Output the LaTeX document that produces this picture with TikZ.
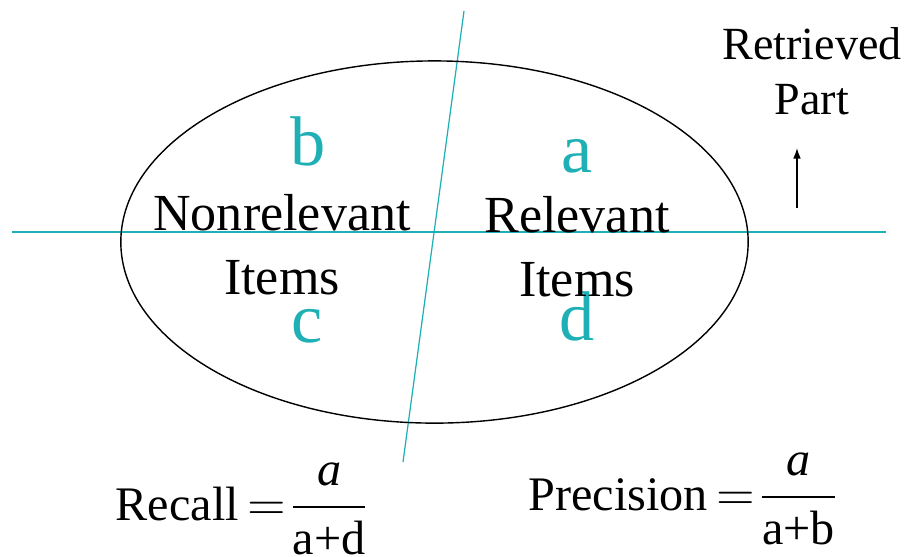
\documentclass[tikz,border=0pt]{standalone}
\usepackage{amsmath}
\usepackage{fontspec}
\setmainfont{Liberation Serif}
\usepackage{tikz}
\usetikzlibrary{arrows.meta}
\definecolor{myteal}{HTML}{1FB0B5}

\begin{document}
\begin{tikzpicture}[x=0.01cm, y=-0.01cm,
    cell/.style={anchor=base, text=myteal, font=\fontsize{20}{24}\selectfont},
    region/.style={align=center, font=\fontsize{14.8}{18.2}\selectfont},
    formula/.style={anchor=base west, inner sep=0pt, font=\fontsize{13.7}{16}\selectfont}]
    \useasboundingbox (0, 0) rectangle (911, 556);
    % dividing lines and the set of items
    \coordinate (hl) at (12, 232);
    \coordinate (hr) at (886, 232);
    \coordinate (vt) at (464, 11);
    \coordinate (vb) at (403, 462);
    \draw[myteal, line width=0.35pt] (hl) -- (hr);
    \draw[myteal, line width=0.35pt] (vt) -- (vb);
    \draw[line width=0.4pt] (434.5, 242) ellipse [x radius=3.135cm, y radius=1.81cm];
    % the four cells
    \node[cell] (b) at (308, 165) {b};
    \node[cell] (a) at (577, 172) {a};
    \node[cell] (c) at (307, 342) {c};
    \node[cell] (d) at (577, 340) {d};
    \node[region] (nonrel) at (282, 245) {Nonrelevant\\Items};
    \node[region] (rel) at (577, 247) {Relevant\\Items};
    % retrieved side
    \node[region, font=\fontsize{13.1}{15.7}\selectfont] (retr) at (812, 71) {Retrieved\\Part};
    \coordinate (arrtail) at (797, 208);
    \coordinate (arrtip) at (797, 148);
    \draw[line width=0.4pt, -{Latex[length=3pt, width=2.2pt]}] (arrtail) -- (arrtip);
    % measures
    \node[formula] (recall) at (115, 520)
        {Recall$\,=\mkern-4mu\dfrac{\textit{a}}{\text{a+d}}$};
    \node[formula] (precision) at (528, 510)
        {Precision$\,=\mkern-4mu\dfrac{\textit{a}}{\text{a+b}}$};
\end{tikzpicture}
\end{document}
